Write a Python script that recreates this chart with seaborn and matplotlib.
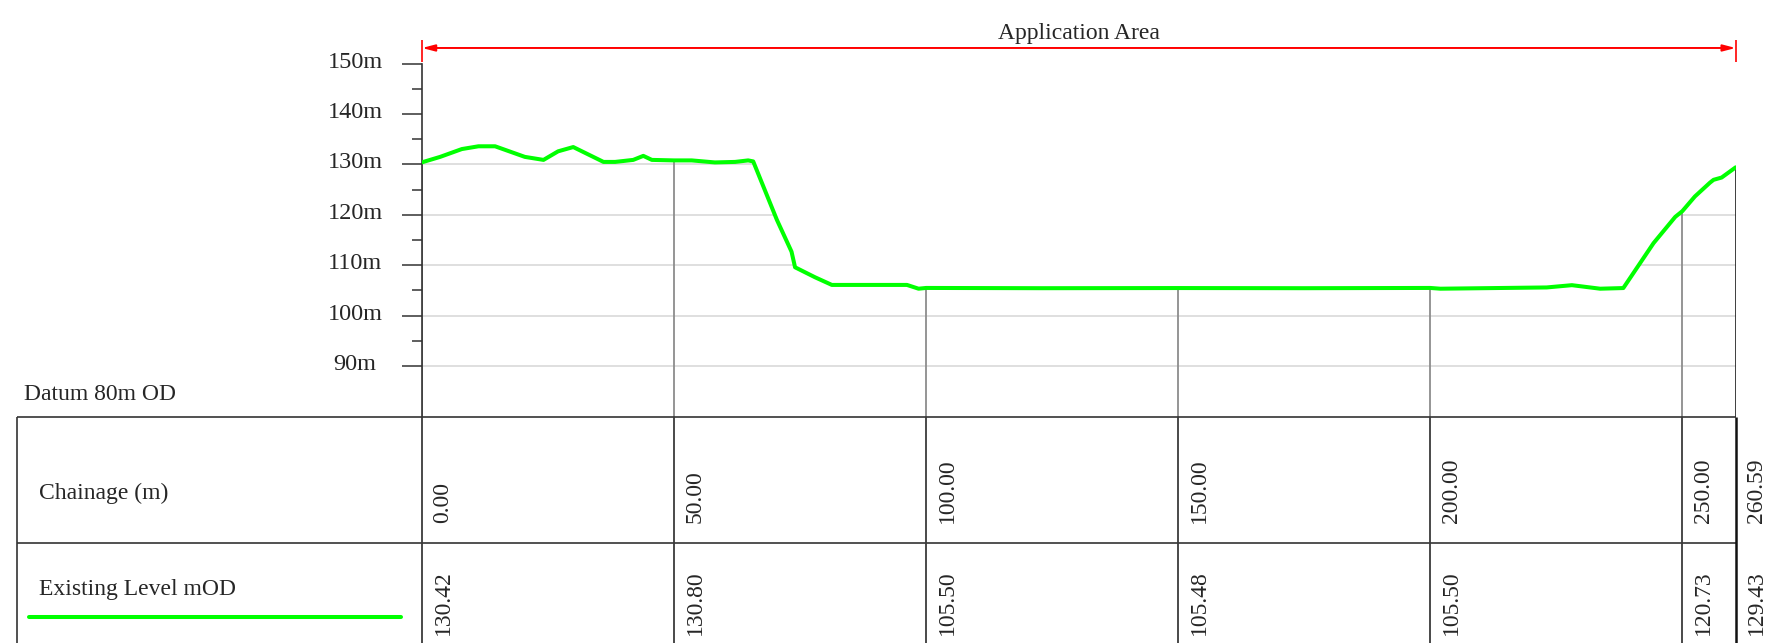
import numpy as np
import pandas as pd
import matplotlib
matplotlib.use("Agg")
import matplotlib.pyplot as plt
import seaborn as sns
from matplotlib.path import Path
from matplotlib.transforms import blended_transform_factory

# ground profile (chainage m, level mOD)
chainage = [0.0, 3.6, 7.9, 11.2, 14.5, 20.4, 24.1, 27.0, 30.0, 36.0, 38.3, 41.9,
            43.9, 45.6, 50.0, 53.5, 58.1, 62.1, 64.7, 65.7, 70.4, 73.3, 74.0, 78.0,
            81.3, 96.2, 98.5, 100.0, 123.0, 150.0, 175.0, 200.0, 202.0, 223.1,
            228.1, 233.7, 238.3, 244.3, 248.6, 250.0, 252.5, 255.5, 256.2, 257.8,
            260.59]
level = [130.42, 131.5, 133.05, 133.6, 133.6, 131.5, 130.9, 132.6, 133.45, 130.5,
         130.5, 130.9, 131.7, 130.9, 130.80, 130.8, 130.4, 130.5, 130.8, 130.6,
         119.0, 112.7, 109.6, 107.6, 106.1, 106.1, 105.35, 105.50, 105.45, 105.48,
         105.45, 105.50, 105.35, 105.6, 106.05, 105.35, 105.48, 114.4, 119.6,
         120.73, 123.65, 126.4, 126.95, 127.4, 129.43]

table_chainage = [0.0, 50.0, 100.0, 150.0, 200.0, 250.0, 260.59]
table_level = [130.42, 130.80, 105.50, 105.48, 105.50, 120.73, 129.43]
chainage_labels = ["0.00", "50.00", "100.00", "150.00", "200.00", "250.00", "260.59"]
level_labels = ["130.42", "130.80", "105.50", "105.48", "105.50", "120.73", "129.43"]

y_ticks = [90, 100, 110, 120, 130, 140, 150]
y_tick_labels = ["90m", "100m", "110m", "120m", "130m", "140m", "150m"]
y_minor = [95, 105, 115, 125, 135, 145]
datum = 80

sns.set_style("white")
plt.rcParams["font.family"] = ["Liberation Serif", "DejaVu Serif"]

W, H = 1784, 643
fig = plt.figure(figsize=(W / 100, H / 100), dpi=100)

# layout in pixels
x0_px, x1_px = 422, 1735.7
table_top_px = 416.5
row_px = 126.5
end = table_chainage[-1]
m_per_px = end / (x1_px - x0_px)

# ---- profile
ax = fig.add_axes([x0_px / W, 1 - table_top_px / H, (x1_px - x0_px) / W, table_top_px / H])
ax.set_xlim(0, end)
ytop = datum + table_top_px * m_per_px
ax.set_ylim(datum, ytop)
ax.grid(False)

# level grid, clipped to the ground (only visible below the ground line)
ground = Path(list(zip(chainage, level)) + [(end, datum), (0, datum), (chainage[0], level[0])],
              closed=True)
grid_lines = ax.hlines(y_ticks, 0, end, color="#dcdcdc", lw=1.3, zorder=1)
grid_lines.set_clip_path(ground, ax.transData)

ax.vlines(table_chainage[:-1], datum, table_level[:-1], color="#8c8c8c", lw=1.3, zorder=2)
ax.vlines(end, datum, table_level[-1], color="#1a1a1a", lw=1.9, zorder=2)

df = pd.DataFrame({"chainage": chainage, "level": level})
sns.lineplot(data=df, x="chainage", y="level", color="#00ff00", lw=2.9,
             sort=False, estimator=None, ax=ax, zorder=3)
ax.set_xlabel("")
ax.set_ylabel("")

for s in ["top", "right", "bottom"]:
    ax.spines[s].set_visible(False)
ax.spines["left"].set_bounds(datum, 150)
ax.spines["left"].set_color("#333333")
ax.spines["left"].set_linewidth(1.2)
ax.set_xticks([])
ax.set_yticks(y_ticks)
ax.set_yticks(y_minor, minor=True)
ax.tick_params(axis="y", which="major", length=14.4, width=1.1, color="#333333",
               direction="out", left=True, labelleft=False)
ax.tick_params(axis="y", which="minor", length=7.2, width=1.1, color="#333333",
               direction="out", left=True)

ylab = blended_transform_factory(fig.transFigure, ax.transData)
for v, lab in zip(y_ticks, y_tick_labels):
    ax.text(355 / W, v + 0.3, lab, transform=ylab, ha="center", va="center",
            fontsize=17.5, clip_on=False)

# application area dimension
dim_v = 153.1
ax.annotate("", xy=(0, dim_v), xytext=(end, dim_v), annotation_clip=False,
            arrowprops=dict(arrowstyle="<|-|>,head_length=0.5,head_width=0.13",
                            color="red", lw=1.4, shrinkA=0, shrinkB=0, mutation_scale=15))
ax.vlines([0, end], 150.4, 154.7, color="red", lw=1.2, clip_on=False)
ax.text(end / 2, 154.85, "Application Area", ha="center", va="baseline", fontsize=17)

fig.text(24 / W, 1 - 400 / H, "Datum 80m OD", fontsize=17, va="baseline")

# ---- table
tax = fig.add_axes([0, 0, 1, (H - table_top_px) / H])
tax.axis("off")
tax.set_xlim(-x0_px * m_per_px, (W - x0_px) * m_per_px)
tax.set_ylim((H - table_top_px) / row_px, 0)

left_ch = (17 - x0_px) * m_per_px
tax.hlines([0, 1], left_ch, end, color="#333333", lw=1.2, clip_on=False)
tax.vlines(left_ch, 0, 2, color="#333333", lw=1.2, clip_on=False)
tax.vlines(table_chainage[:-1], 0, 2, color="#3a3a3a", lw=1.3, clip_on=False)
tax.vlines(end, 0, 2, color="#111111", lw=1.8, clip_on=False)

dx = 21 * m_per_px
for c, lab, lv in zip(table_chainage, chainage_labels, level_labels):
    tax.text(c + dx, 0.84, lab, rotation=90, ha="center", va="bottom", fontsize=17)
    tax.text(c + dx, 1.73, lv, rotation=90, ha="center", va="bottom", fontsize=17)

trans = blended_transform_factory(fig.transFigure, tax.transData)
tax.text(39 / W, 0.655, "Chainage (m)", transform=trans, fontsize=17, va="baseline")
tax.text(39 / W, 1.411, "Existing Level mOD", transform=trans, fontsize=17, va="baseline")
tax.plot([29 / W, 401 / W], [1.587, 1.587], transform=trans, color="#00ff00", lw=2.9,
         clip_on=False)

fig.savefig("out.png", dpi=100)
